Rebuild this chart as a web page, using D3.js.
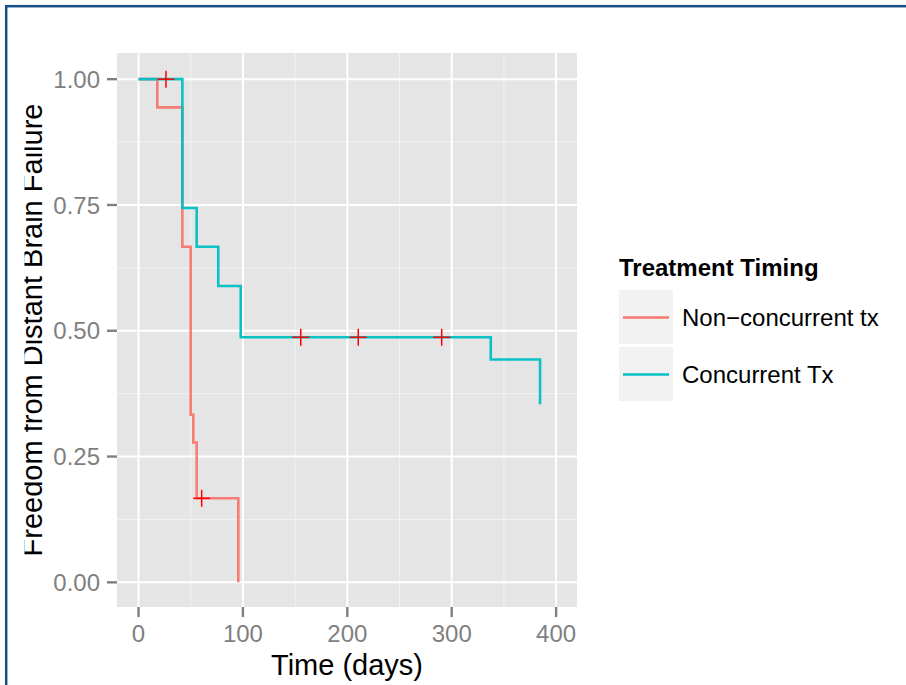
<!DOCTYPE html>
<meta charset="utf-8">
<style>
body { margin: 0; background: #fff; }
text { font-family: "Liberation Sans", Arial, sans-serif; }
.tick-label { font-size: 24px; fill: #7f7f7f; }
.axis-title { font-size: 29px; fill: #000; }
.legend-text { font-size: 24px; fill: #000; }
</style>
<body>
<script src="https://cdn.jsdelivr.net/npm/d3@7"></script>
<script>
// survival curves (step functions)
const groups = ["Non\u2212concurrent tx", "Concurrent Tx"];
const colors = ["#F8766D", "#00BFC4"];

const nonConcTimes = [0, 18, 42, 50, 52.5, 55.7, 95.6];
const nonConcSurv  = [1, 0.944, 0.667, 0.333, 0.278, 0.167, 0];
const concTimes    = [0, 42, 55.7, 76.4, 97.9, 337.4, 384.6];
const concSurv     = [1, 0.744, 0.667, 0.589, 0.487, 0.443, 0.354];

// censored observations (all drawn as red crosses)
const censTimes = [26.3, 155.4, 210.5, 290.4, 60.5];
const censSurv  = [1, 0.487, 0.487, 0.487, 0.167];

const xTicks = [0, 100, 200, 300, 400];
const xMinor = [50, 150, 250, 350];
const yTicks = [0, 0.25, 0.5, 0.75, 1];
const yMinor = [0.125, 0.375, 0.625, 0.875];

const W = 906, H = 685;
const panel = {left: 117, right: 577, top: 53, bottom: 607};

const svg = d3.select("body").append("svg")
    .attr("width", W)
    .attr("height", H);

// outer frame
svg.append("rect")
    .attr("x", 6.2).attr("y", 6.2)
    .attr("width", W + 50).attr("height", H + 50)
    .attr("fill", "none")
    .attr("stroke", "#1a5089")
    .attr("stroke-width", 2.5);

const x = d3.scaleLinear().domain([-20.6, 420]).range([panel.left, panel.right]);
const y = d3.scaleLinear().domain([-0.049, 1.052]).range([panel.bottom, panel.top]);

// panel background + grid
svg.append("rect")
    .attr("x", panel.left).attr("y", panel.top)
    .attr("width", panel.right - panel.left)
    .attr("height", panel.bottom - panel.top)
    .attr("fill", "#E5E5E5");

const grid = svg.append("g");
grid.selectAll(".vmin").data(xMinor).enter().append("line")
    .attr("x1", d => x(d)).attr("x2", d => x(d))
    .attr("y1", panel.top).attr("y2", panel.bottom)
    .attr("stroke", "#F2F2F2").attr("stroke-width", 1);
grid.selectAll(".hmin").data(yMinor).enter().append("line")
    .attr("y1", d => y(d)).attr("y2", d => y(d))
    .attr("x1", panel.left).attr("x2", panel.right)
    .attr("stroke", "#F2F2F2").attr("stroke-width", 1);
grid.selectAll(".vmaj").data(xTicks).enter().append("line")
    .attr("x1", d => x(d)).attr("x2", d => x(d))
    .attr("y1", panel.top).attr("y2", panel.bottom)
    .attr("stroke", "#fff").attr("stroke-width", 2);
grid.selectAll(".hmaj").data(yTicks).enter().append("line")
    .attr("y1", d => y(d)).attr("y2", d => y(d))
    .attr("x1", panel.left).attr("x2", panel.right)
    .attr("stroke", "#fff").attr("stroke-width", 2);

// curves
const line = d3.line()
    .x(d => x(d[0]))
    .y(d => y(d[1]))
    .curve(d3.curveStepAfter);

const series = [
  d3.zip(nonConcTimes, nonConcSurv),
  d3.zip(concTimes, concSurv)
];

svg.selectAll(".curve").data(series).enter().append("path")
    .attr("class", "curve")
    .attr("d", line)
    .attr("fill", "none")
    .attr("stroke", (d, i) => colors[i])
    .attr("stroke-width", 2.6)
    .attr("stroke-opacity", 0.95);

// censor marks
const cross = d3.zip(censTimes, censSurv);
const cs = 8.5;
const cg = svg.append("g").attr("stroke", "#FF0000").attr("stroke-width", 1.5);
cg.selectAll(".ch").data(cross).enter().append("line")
    .attr("x1", d => x(d[0]) - cs).attr("x2", d => x(d[0]) + cs)
    .attr("y1", d => y(d[1])).attr("y2", d => y(d[1]));
cg.selectAll(".cv").data(cross).enter().append("line")
    .attr("x1", d => x(d[0])).attr("x2", d => x(d[0]))
    .attr("y1", d => y(d[1]) - cs).attr("y2", d => y(d[1]) + cs);

// axes (ggplot style: grey ticks + labels)
const yAxis = svg.append("g");
yAxis.selectAll("line").data(yTicks).enter().append("line")
    .attr("x1", panel.left - 10).attr("x2", panel.left)
    .attr("y1", d => y(d)).attr("y2", d => y(d))
    .attr("stroke", "#7f7f7f").attr("stroke-width", 2.4);
yAxis.selectAll("text").data(yTicks).enter().append("text")
    .attr("class", "tick-label")
    .attr("x", 100).attr("y", d => y(d))
    .attr("dy", "0.36em")
    .attr("text-anchor", "end")
    .text(d => d3.format(".2f")(d));

const xAxis = svg.append("g");
xAxis.selectAll("line").data(xTicks).enter().append("line")
    .attr("x1", d => x(d)).attr("x2", d => x(d))
    .attr("y1", panel.bottom).attr("y2", panel.bottom + 10)
    .attr("stroke", "#7f7f7f").attr("stroke-width", 2.4);
xAxis.selectAll("text").data(xTicks).enter().append("text")
    .attr("class", "tick-label")
    .attr("x", d => x(d)).attr("y", 642)
    .attr("text-anchor", "middle")
    .text(d => d);

svg.append("text")
    .attr("class", "axis-title")
    .attr("x", (panel.left + panel.right) / 2)
    .attr("y", 675)
    .attr("text-anchor", "middle")
    .text("Time (days)");

// y title is clipped on its left side in the original
svg.append("clipPath").attr("id", "yclip")
  .append("rect").attr("x", 24.5).attr("y", 0).attr("width", 100).attr("height", H);
svg.append("g").attr("clip-path", "url(#yclip)")
  .append("text")
    .attr("class", "axis-title")
    .attr("transform", "translate(42," + ((panel.top + panel.bottom) / 2) + ") rotate(-90)")
    .attr("text-anchor", "middle")
    .text("Freedom from Distant Brain Failure");

// legend
const lg = svg.append("g").attr("transform", "translate(619,0)");
lg.append("text")
    .attr("class", "legend-text")
    .attr("x", 0).attr("y", 276)
    .attr("font-weight", "bold")
    .text("Treatment Timing");
const keyTop = [290, 347];
groups.forEach(function(g, i) {
  lg.append("rect")
      .attr("x", 0).attr("y", keyTop[i])
      .attr("width", 54).attr("height", 54)
      .attr("fill", "#F2F2F2");
  lg.append("line")
      .attr("x1", 4).attr("x2", 50)
      .attr("y1", keyTop[i] + 27.5).attr("y2", keyTop[i] + 27.5)
      .attr("stroke", colors[i]).attr("stroke-width", 2.6);
  lg.append("text")
      .attr("class", "legend-text")
      .attr("x", 63).attr("y", keyTop[i] + 27)
      .attr("dy", "0.36em")
      .text(g);
});
</script>
</body>
